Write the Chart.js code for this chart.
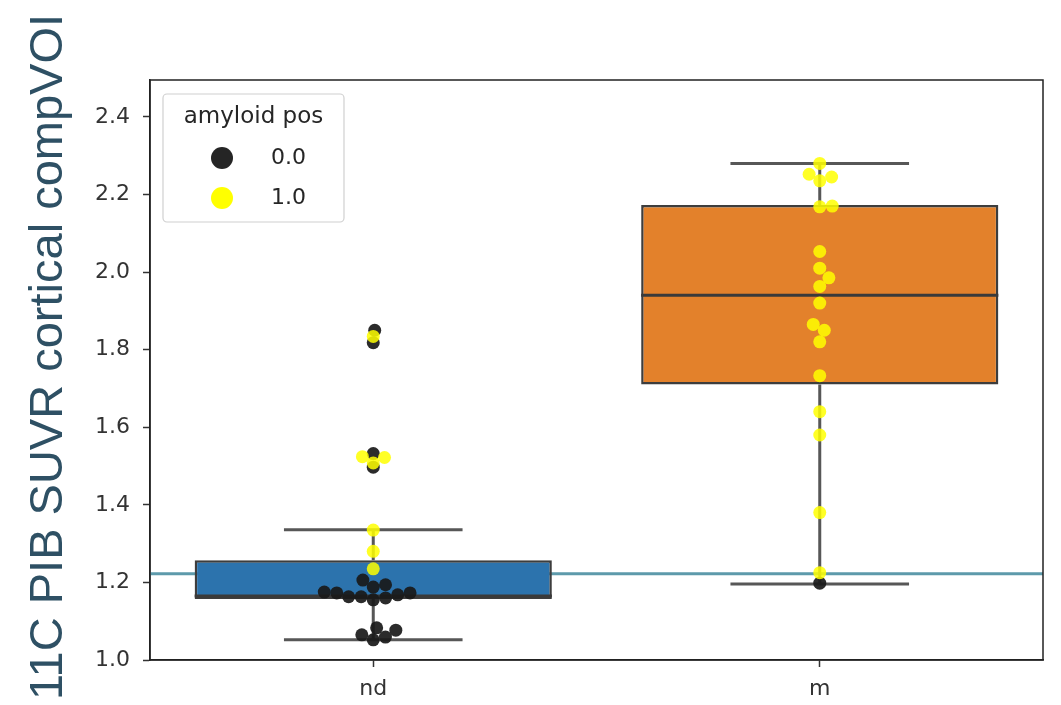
<!DOCTYPE html>
<html><head><meta charset="utf-8">
<script src="https://cdn.jsdelivr.net/npm/chart.js@4/dist/chart.umd.min.js"></script>
<style>html,body{margin:0;padding:0;background:#fff;overflow:hidden}</style>
</head><body>
<canvas id="c" width="1061" height="705" style="display:block"></canvas>
<script>
// ---- data ----
const categories = ['nd', 'm'];
const yTickValues = [1.0, 1.2, 1.4, 1.6, 1.8, 2.0, 2.2, 2.4];
const yMin = 1.0, yMax = 2.495;
const boxQ1 = [1.157, 1.71];
const boxMedian = [1.165, 1.94];
const boxQ3 = [1.257, 2.173];
const whiskerLow = [1.052, 1.196];
const whiskerHigh = [1.336, 2.28];
const thresholdValue = 1.222;
const hueLabels = ['0.0', '1.0'];
const legendTitle = 'amyloid pos';
const yAxisTitle = '11C PIB SUVR cortical compVOI';
// amyloid pos = 0.0 (black), amyloid pos = 1.0 (yellow)
const ndAmyloid0 = [1.175, 1.173, 1.168, 1.194, 1.160, 1.188, 1.155, 1.206, 1.163, 1.163, 1.173,
                    1.083, 1.059, 1.065, 1.077, 1.052, 1.532, 1.497, 1.850, 1.818];
const ndAmyloid1 = [1.834, 1.524, 1.522, 1.508, 1.335, 1.280, 1.235];
const mAmyloid0 = [1.198];
const mAmyloid1 = [2.280, 2.252, 2.245, 2.235, 2.170, 2.168, 2.053, 2.010, 1.985, 1.963, 1.920,
                   1.865, 1.850, 1.820, 1.733, 1.640, 1.580, 1.380, 1.225];

// ---- styles ----
const boxColors = ['#2c73ad', '#e3812b'];
const tickFont = {family: 'DejaVu Sans', size: 22};

// line segments for whiskers / medians (built from data arrays)
const whiskerData = [];
categories.forEach((c, i) => {
  whiskerData.push({x: i - 0.2, y: whiskerLow[i]}, {x: i + 0.2, y: whiskerLow[i]}, {x: i, y: null});
  whiskerData.push({x: i, y: whiskerLow[i]}, {x: i, y: boxQ1[i]}, {x: i, y: null});
  whiskerData.push({x: i, y: boxQ3[i]}, {x: i, y: whiskerHigh[i]}, {x: i, y: null});
  whiskerData.push({x: i - 0.2, y: whiskerHigh[i]}, {x: i + 0.2, y: whiskerHigh[i]}, {x: i, y: null});
});
const medianData = [];
categories.forEach((c, i) => {
  medianData.push({x: i - 0.4, y: boxMedian[i]}, {x: i + 0.4, y: boxMedian[i]}, {x: i, y: null});
});

const decor = {
  id: 'decor',
  afterDraw(chart) {
    const {ctx, chartArea: a} = chart;
    ctx.save();
    // frame
    ctx.strokeStyle = '#222';
    ctx.lineWidth = 1.5;
    ctx.strokeRect(a.left, a.top, a.right - a.left, a.bottom - a.top);
    // y-axis title
    ctx.save();
    ctx.translate(62, 357);
    ctx.rotate(-Math.PI / 2);
    ctx.fillStyle = '#2e5064';
    ctx.font = '47px "Liberation Sans", Arial, sans-serif';
    ctx.textAlign = 'center';
    ctx.textBaseline = 'alphabetic';
    ctx.fillText(yAxisTitle, 0, 0);
    ctx.restore();
    // legend
    const lx = a.left + 13, ly = a.top + 14, lw = 181, lh = 128;
    ctx.fillStyle = 'rgba(255,255,255,0.9)';
    ctx.strokeStyle = '#d0d0d0';
    ctx.lineWidth = 1.2;
    ctx.beginPath();
    if (ctx.roundRect) ctx.roundRect(lx, ly, lw, lh, 4); else ctx.rect(lx, ly, lw, lh);
    ctx.fill(); ctx.stroke();
    ctx.fillStyle = '#262626';
    ctx.font = '23px "DejaVu Sans"';
    ctx.textAlign = 'center';
    ctx.textBaseline = 'middle';
    ctx.fillText(legendTitle, lx + lw / 2, ly + 23);
    const colors = ['rgba(25,25,25,0.95)', '#ffff00'];
    hueLabels.forEach((t, k) => {
      const cy = ly + 64 + k * 40;
      ctx.fillStyle = colors[k];
      ctx.beginPath();
      ctx.arc(lx + 59, cy, 11, 0, Math.PI * 2);
      ctx.fill();
      ctx.fillStyle = '#262626';
      ctx.font = '22px "DejaVu Sans"';
      ctx.textAlign = 'left';
      ctx.fillText(t, lx + 108, cy);
    });
    ctx.restore();
  }
};

const chart = new Chart(document.getElementById('c'), {
  type: 'bar',
  data: {
    datasets: [
      {type: 'line', label: 'threshold', data: [{x: -0.5, y: thresholdValue}, {x: 1.5, y: thresholdValue}],
       borderColor: '#5d9aab', borderWidth: 3, pointRadius: 0, order: 10},
      {type: 'bar', label: 'box', data: categories.map((c, i) => ({x: i, y: [boxQ1[i], boxQ3[i]]})),
       backgroundColor: boxColors, borderColor: '#3d3d3d', borderWidth: 2.5, borderSkipped: false,
       barPercentage: 0.8, categoryPercentage: 1, order: 9},
      {type: 'line', label: 'whiskers', data: whiskerData, borderColor: '#575757', borderWidth: 3,
       pointRadius: 0, spanGaps: false, order: 8},
      {type: 'line', label: 'median', data: medianData, borderColor: '#3a3a3a', borderWidth: 3,
       pointRadius: 0, spanGaps: false, order: 7},
      {type: 'scatter', label: hueLabels[0], data: [], backgroundColor: 'rgba(25,25,25,0.92)',
       pointRadius: 6.5, borderWidth: 0, order: 2},
      {type: 'scatter', label: hueLabels[1], data: [], backgroundColor: 'rgba(255,255,0,0.85)',
       pointRadius: 6.5, borderWidth: 0, order: 1}
    ]
  },
  options: {
    responsive: false,
    animation: false,
    devicePixelRatio: 1,
    layout: {padding: {left: 0, top: 80, right: 18, bottom: 0}},
    plugins: {legend: {display: false}, tooltip: {enabled: false}},
    scales: {
      x: {
        type: 'linear', min: -0.5, max: 1.5, offset: false,
        afterBuildTicks: s => { s.ticks = categories.map((c, i) => ({value: i})); },
        afterFit: s => { s.height = 45; },
        ticks: {callback: v => categories[v] ?? '', font: tickFont, color: '#333', padding: 9, maxRotation: 0},
        grid: {offset: false, drawOnChartArea: false, tickLength: 7, color: '#333', tickWidth: 1.5},
        border: {color: '#222', width: 1.5}
      },
      y: {
        type: 'linear', min: yMin, max: yMax,
        afterBuildTicks: s => { s.ticks = yTickValues.map(v => ({value: v})); },
        afterFit: s => { s.width = 150; },
        ticks: {callback: v => Number(v).toFixed(1), font: tickFont, color: '#333', padding: 13},
        grid: {drawOnChartArea: false, tickLength: 7, color: '#333', tickWidth: 1.5},
        border: {color: '#222', width: 1.5}
      }
    }
  },
  plugins: [decor]
});

// beeswarm layout computed in pixel space through the chart's own scales
function swarm(values, center, diam) {
  const xs = chart.scales.x, ys = chart.scales.y;
  const pxPerX = xs.getPixelForValue(1) - xs.getPixelForValue(0);
  const idx = values.map((v, i) => i).sort((a, b) => values[a] - values[b]);
  const placed = [];
  const out = new Array(values.length);
  for (const i of idx) {
    const py = ys.getPixelForValue(values[i]);
    const cands = [0];
    for (const p of placed) {
      const dy = py - p.py;
      if (Math.abs(dy) < diam) {
        const dx = Math.sqrt(diam * diam - dy * dy);
        cands.push(p.px + dx, p.px - dx);
      }
    }
    cands.sort((a, b) => Math.abs(a) - Math.abs(b));
    let best = 0;
    for (const c of cands) {
      if (placed.every(p => (c - p.px) ** 2 + (py - p.py) ** 2 >= diam * diam - 0.01)) { best = c; break; }
    }
    placed.push({px: best, py});
    out[i] = {x: center + best / pxPerX, y: values[i]};
  }
  return out;
}
chart.data.datasets[4].data = [...swarm(ndAmyloid0, 0, 12.5), ...swarm(mAmyloid0, 1, 12.5)];
chart.data.datasets[5].data = [...swarm(ndAmyloid1, 0, 12.5), ...swarm(mAmyloid1, 1, 12.5)];
chart.update('none');
</script>
</body></html>
